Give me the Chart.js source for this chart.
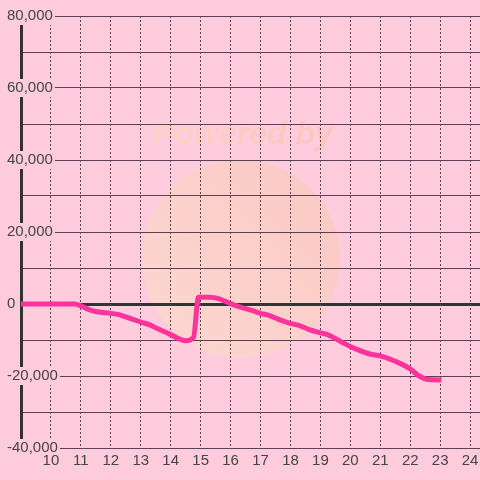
<!DOCTYPE html>
<html>
<head>
<meta charset="utf-8">
<script src="https://cdn.jsdelivr.net/npm/chart.js@4"></script>
<style>
  body { margin: 0; background: #ffccdd; }
  canvas { display: block; }
</style>
</head>
<body>
<canvas id="graph" width="480" height="480"></canvas>
<script>
// hours of the day and the running balance
var hours = [9.0, 10.0, 10.8, 11.0, 11.25, 11.5, 12.0, 12.25, 12.5, 13.0, 13.3, 13.5, 14.0, 14.5, 14.76,
             14.93, 15.3, 15.6, 16.0, 16.3, 16.65, 17.0, 17.3, 17.65, 18.0, 18.3, 18.65, 19.0, 19.3, 19.65,
             20.0, 20.3, 20.65, 21.0, 21.5, 22.0, 22.3, 22.6, 23.04];
var balance = [0, 0, 0, -500, -1500, -2100, -2600, -2900, -3600, -5000, -5800, -6600, -8500, -10200, -9300,
               1900, 1900, 1500, 100, -800, -1650, -2600, -3200, -4400, -5400, -6000, -7200, -8000, -8700, -10300,
               -11800, -12900, -13900, -14400, -15900, -18000, -20000, -21000, -21100];

var xTicks = [10, 11, 12, 13, 14, 15, 16, 17, 18, 19, 20, 21, 22, 23, 24];
var yTicks = [-40000, -30000, -20000, -10000, 0, 10000, 20000, 30000, 40000, 50000, 60000, 70000, 80000];
var yTickLabels = ['-40,000', '', '-20,000', '', '0', '', '20,000', '', '40,000', '', '60,000', '', '80,000'];

var pink = '#ffccdd';
var gridColor = '#5a4050';

var points = hours.map(function(h, i) { return {x: h, y: balance[i]}; });

var backdropPlugin = {
    id: 'backdrop',
    beforeDraw: function(chart) {
        var ctx = chart.ctx;
        ctx.save();
        ctx.fillStyle = pink;
        ctx.fillRect(0, 0, chart.width, chart.height);
        // faint watermark
        var grad = ctx.createLinearGradient(150, 350, 340, 170);
        grad.addColorStop(0, 'rgba(252,218,205,0.8)');
        grad.addColorStop(1, 'rgba(250,200,190,0.8)');
        ctx.fillStyle = grad;
        ctx.beginPath();
        ctx.arc(241, 259, 99, 0, Math.PI * 2);
        ctx.fill();
        var tgrad = ctx.createLinearGradient(150, 0, 337, 0);
        tgrad.addColorStop(0, '#fdd2c6');
        tgrad.addColorStop(1, '#f9c6c0');
        ctx.fillStyle = tgrad;
        ctx.font = 'italic bold 32px "Liberation Sans"';
        ctx.textAlign = 'center';
        ctx.textBaseline = 'alphabetic';
        ctx.fillText('Powered by', 243, 144);
        ctx.restore();
    }
};

var chart = new Chart(document.getElementById('graph'), {
    type: 'line',
    data: {
        datasets: [{
            data: points,
            borderColor: '#ff3399',
            borderWidth: 5,
            pointRadius: 0,
            fill: false,
            cubicInterpolationMode: 'monotone'
        }]
    },
    options: {
        responsive: false,
        animation: false,
        layout: { padding: { top: 16, right: 0, left: 0, bottom: 0 } },
        plugins: { legend: { display: false }, tooltip: { enabled: false } },
        scales: {
            y: {
                type: 'linear',
                min: -40000,
                max: 80000,
                afterBuildTicks: function(scale) {
                    scale.ticks = yTicks.map(function(v) { return {value: v}; });
                },
                afterFit: function(scale) {
                    scale.width = 21;
                    scale.paddingTop = 0;
                    scale.paddingBottom = 0;
                },
                grid: {
                    drawTicks: false,
                    color: function(c) { return c.tick && c.tick.value === 0 ? '#333333' : gridColor; },
                    lineWidth: function(c) { return c.tick && c.tick.value === 0 ? 3 : 1; }
                },
                border: { display: true, color: '#333333', width: 3 },
                ticks: {
                    mirror: true,
                    padding: -14,
                    autoSkip: false,
                    color: '#444444',
                    font: { family: 'Liberation Sans', size: 15 },
                    showLabelBackdrop: true,
                    backdropColor: pink,
                    backdropPadding: { top: 0, bottom: 0, left: 2, right: 2 },
                    callback: function(v, i) { return yTickLabels[i]; }
                }
            },
            x: {
                type: 'linear',
                min: 9,
                max: 24.33,
                afterBuildTicks: function(scale) {
                    scale.ticks = xTicks.map(function(v) { return {value: v}; });
                },
                afterFit: function(scale) {
                    scale.height = 32;
                    scale.paddingLeft = 0;
                    scale.paddingRight = 0;
                },
                grid: { drawTicks: false, color: gridColor, lineWidth: 1 },
                border: { display: false, dash: [2, 2] },
                ticks: {
                    padding: 4,
                    autoSkip: false,
                    maxRotation: 0,
                    color: '#444444',
                    font: { family: 'Liberation Sans', size: 15 },
                    callback: function(v) { return String(v); }
                }
            }
        }
    },
    plugins: [backdropPlugin]
});
</script>
</body>
</html>
